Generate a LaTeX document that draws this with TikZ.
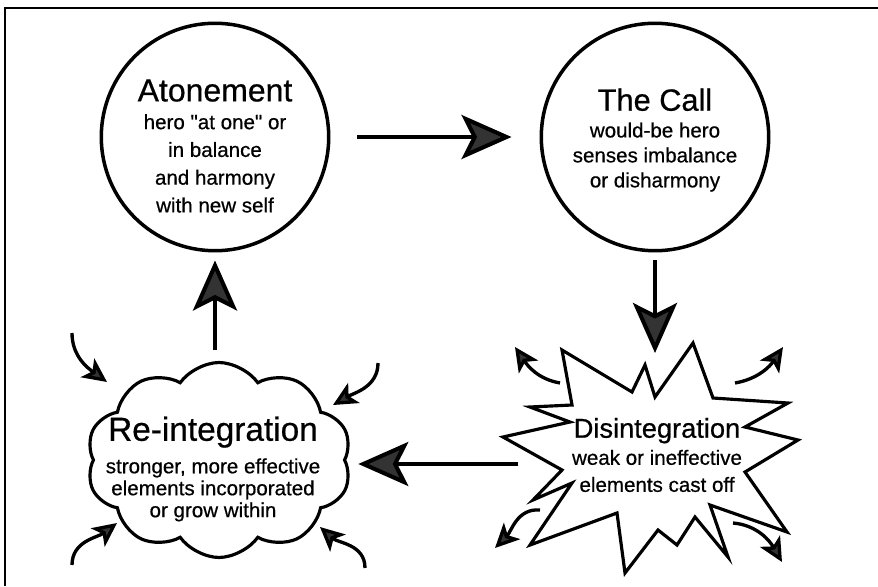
\documentclass[tikz,border=0pt]{standalone}
\usepackage{fontspec}
\setmainfont{Liberation Sans}[Ligatures=TeXOff, FakeBold=0.6]
\usetikzlibrary{arrows.meta,shapes.symbols}

\tikzset{
  stage/.style={circle, draw, line width=2pt, minimum size=4.55cm, inner sep=0pt},
  blurb/.style={align=center, inner sep=0pt},
  bigtip/.style={-{Stealth[length=1cm,width=0.88cm,inset=0.22cm,fill=black!80]}, line width=2.3pt},
  smalltip/.style={-{Stealth[length=0.48cm,width=0.46cm,inset=0.12cm,fill=black!80]}, line width=1.9pt},
}
\newcommand{\stagename}[2]{{\fontsize{#1}{#1}\selectfont #2}}

\begin{document}
\begin{tikzpicture}[x=0.02cm, y=0.02cm]
  \useasboundingbox (0,0) rectangle (878,586);

	% frame, top and left edges only
	\draw [line width=1.5pt] (878,578) -- (5,578) -- (5,0);

	% the two circles
	\node[stage] (atone) at (215,449) {};
	\node[blurb, font=\fontsize{11.7}{15.8}\selectfont] (atonetext) at (215,440) {\stagename{18.2}{Atonement}\\ hero "at one" or\\ in balance\\ and harmony\\ with new self};
	\node[stage] (call) at (655,449) {};
	\node[blurb, font=\fontsize{11.7}{14.2}\selectfont] (calltext) at (655,446) {\stagename{17.5}{The Call}\\[1pt] would-be hero\\ senses imbalance\\ or disharmony};

	% cloud and its text
	\node[cloud, draw, line width=1.8pt, cloud puffs=10, cloud puff arc=110, minimum width=5.3cm, minimum height=3.9cm, inner sep=0pt] (reint) at (219,126) {};
	\node[blurb, font=\fontsize{11.7}{12.5}\selectfont] (reinttext) at (213,117) {\stagename{19}{Re-integration}\\[6pt] stronger, more effective\\ elements incorporated\\ or grow within};

	% starburst
	\draw [line width=1.8pt, line join=miter] (562,236) -- (572,181) -- (530,179) -- (570,164) -- (503,149) -- (562,116) -- (533,86) -- (572,103) -- (530,41) -- (617,73) -- (625,13) -- (658,56) -- (677,41) -- (695,69) -- (728,29) -- (710,81) -- (787,54) -- (745,114) -- (798,146) -- (745,159) -- (788,183) -- (713,188) -- (693,243) -- (655,189) -- (645,221) -- (632,194) -- cycle;
	\node[blurb, font=\fontsize{11.7}{15.4}\selectfont] (disint) at (657,131) {\stagename{15.5}{Disintegration}\\ weak or ineffective\\ elements cast off};
	\coordinate (burstN) at (655,233);
	\coordinate (burstW) at (518,122);

	% the cycle
	\draw [bigtip, shorten <=0.54cm, shorten >=0.56cm] (atone.east) -- (call.west);
	\draw [bigtip, shorten <=0.16cm] (call.south) -- (burstN);
	\draw [bigtip, shorten >=0.24cm] (burstW) -- (reint.east |- burstW);
	\draw [bigtip, shorten <=0.22cm, shorten >=0.16cm] (reint.north -| atone.south) -- (atone.south);

	% pieces coming in
	\draw [smalltip] (72,253) to[out=-90, in=144] (107,204);
	\draw [smalltip] (378,223) to[out=-90, in=30] (333,181);
	\draw [smalltip] (72,21) to[out=90, in=217] (117,63);
	\draw [smalltip] (365,18) to[out=90, in=318] (320,59);

	% pieces cast off
	\draw [smalltip] (560,203) to[out=170, in=304] (515,239);
	\draw [smalltip] (735,203) to[out=10, in=236] (783,239);
	\draw [smalltip] (540,76) to[out=175, in=45] (495,38);
	\draw [smalltip] (733,63) to[out=-5, in=120] (782,24);
\end{tikzpicture}
\end{document}
